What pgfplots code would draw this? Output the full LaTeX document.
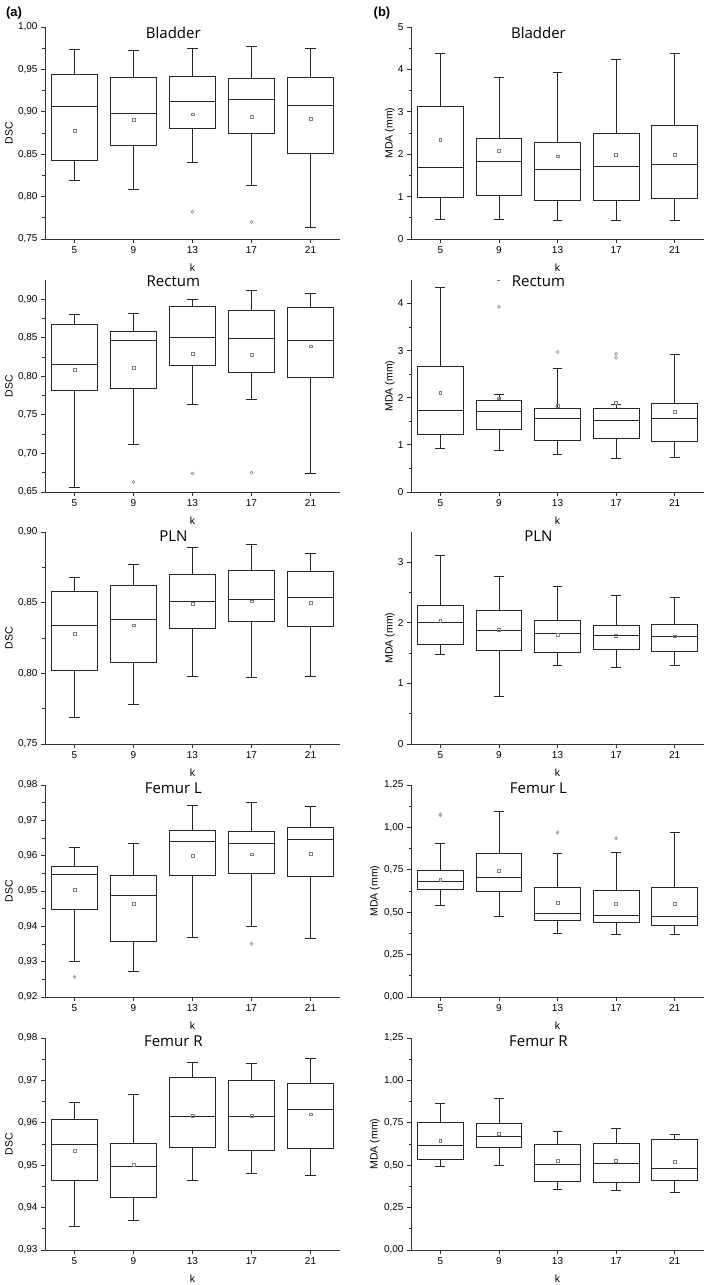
\documentclass[border=0pt]{standalone}
\usepackage{fontspec}
\setmainfont{Liberation Sans}
\newfontfamily\titlefont{Open Sans}
\usepackage{pgfplots}
\pgfplotsset{compat=1.18}

% box: position, lower whisker, Q1, median, Q3, upper whisker
\newcommand{\bx}[6]{%
 \pgfmathsetmacro\bxl{#1-0.39}\pgfmathsetmacro\bxr{#1+0.39}%
 \pgfmathsetmacro\bxcl{#1-0.085}\pgfmathsetmacro\bxcr{#1+0.085}%
 \addplot[boxline] coordinates {(\bxl,#3) (\bxr,#3) (\bxr,#5) (\bxl,#5) (\bxl,#3) (\bxr,#3) (nan,nan)
   (\bxl,#4) (\bxr,#4) (nan,nan) (#1,#5) (#1,#6) (nan,nan) (\bxcl,#6) (\bxcr,#6) (nan,nan)
   (#1,#3) (#1,#2) (nan,nan) (\bxcl,#2) (\bxcr,#2)};%
}
\newcommand{\means}[5]{\addplot[only marks, mark=square, mark size=1.4pt, gray, mark options={line width=0.5pt}] coordinates {(0,#1) (1,#2) (2,#3) (3,#4) (4,#5)};}

\pgfplotsset{
  boxline/.style={black!85, line width=0.8pt, unbounded coords=jump, mark=none},
  panel/.style={
    scale only axis, height=212pt, xmin=-0.5, xmax=4.5, clip=false,
    xtick={0,1,2,3,4}, xticklabels={5,9,13,17,21},
    axis lines=left, axis line style={-, line width=0.9pt, black!80},
    tick align=outside, major tick length=4pt, minor tick length=2.5pt,
    every tick/.style={black!80, line width=0.8pt},
    minor y tick num=1,
    xlabel={k},
    xlabel style={at={(axis description cs:0.5,-0.137)}, anchor=center},
    tick label style={font=\fontsize{10}{11}\selectfont},
    label style={font=\fontsize{10.5}{12}\selectfont},
    title style={font=\titlefont\fontsize{15}{16}\selectfont, at={(0.435,1)}, anchor=center, yshift=-12pt},
  },
  dsc/.style={panel, width=295pt, ylabel={DSC},
    ylabel style={at={(axis description cs:-0.122,0.5)}, anchor=center},
    yticklabel style={/pgf/number format/.cd, fixed, fixed zerofill, precision=2, use comma, assume math mode=true}},
  mdaint/.style={panel, width=293pt, ylabel={MDA (mm)},
    ylabel style={at={(axis description cs:-0.072,0.5)}, anchor=center},
    yticklabel style={/pgf/number format/.cd, fixed, precision=0, assume math mode=true}},
  mdadec/.style={panel, width=293pt, ylabel={MDA (mm)},
    ylabel style={at={(axis description cs:-0.123,0.5)}, anchor=center},
    yticklabel style={/pgf/number format/.cd, fixed, fixed zerofill, precision=2, use comma, assume math mode=true}},
  outl/.style={only marks, mark=o, mark size=1.5pt, gray, mark options={line width=0.5pt}},
}

\begin{document}
\begin{tikzpicture}
\path[use as bounding box] (0pt,0pt) rectangle (709pt,1285pt);
\node[font=\bfseries\fontsize{13}{14}\selectfont] at (14pt,1272pt) {(a)};
\node[font=\bfseries\fontsize{13}{14}\selectfont] at (382pt,1272pt) {(b)};

% ---------- Row 1: Bladder ----------
\begin{axis}[dsc, at={(45pt,1046pt)}, anchor=south west, title={Bladder},
  ymin=0.75, ymax=1.00, ytick={0.75,0.80,0.85,0.90,0.95,1.00}]
\bx{0}{0.819}{0.843}{0.906}{0.944}{0.974}
\bx{1}{0.808}{0.860}{0.898}{0.940}{0.972}
\bx{2}{0.840}{0.880}{0.912}{0.942}{0.975}
\bx{3}{0.813}{0.874}{0.915}{0.939}{0.977}
\bx{4}{0.764}{0.851}{0.907}{0.940}{0.975}
\means{0.878}{0.891}{0.897}{0.894}{0.892}
\addplot[outl] coordinates {(2,0.782) (3,0.770)};
\end{axis}

\begin{axis}[mdaint, at={(411pt,1046pt)}, anchor=south west, title={Bladder},
  ymin=0, ymax=5, ytick={0,1,2,3,4,5}]
\bx{0}{0.46}{0.97}{1.68}{3.13}{4.37}
\bx{1}{0.47}{1.02}{1.83}{2.37}{3.82}
\bx{2}{0.43}{0.92}{1.63}{2.28}{3.94}
\bx{3}{0.43}{0.92}{1.71}{2.50}{4.24}
\bx{4}{0.45}{0.95}{1.77}{2.69}{4.37}
\means{2.34}{2.09}{1.95}{1.99}{1.99}
\end{axis}

% ---------- Row 2: Rectum ----------
\begin{axis}[dsc, at={(45pt,793pt)}, anchor=south west, title={Rectum}, title style={yshift=5pt},
  ymin=0.65, ymax=0.925, ytick={0.65,0.70,0.75,0.80,0.85,0.90}]
\bx{0}{0.656}{0.782}{0.815}{0.868}{0.881}
\bx{1}{0.712}{0.784}{0.846}{0.858}{0.882}
\bx{2}{0.763}{0.814}{0.850}{0.891}{0.900}
\bx{3}{0.770}{0.805}{0.849}{0.885}{0.912}
\bx{4}{0.674}{0.799}{0.847}{0.889}{0.908}
\means{0.809}{0.811}{0.829}{0.828}{0.839}
\addplot[outl] coordinates {(1,0.663) (2,0.674) (3,0.675)};
\end{axis}

\begin{axis}[mdaint, at={(411pt,793pt)}, anchor=south west, title={Rectum}, title style={yshift=5pt},
  ymin=0, ymax=4.5, ytick={0,1,2,3,4}]
\bx{0}{0.93}{1.22}{1.73}{2.66}{4.35}
\bx{1}{0.89}{1.33}{1.71}{1.94}{2.07}
\bx{2}{0.79}{1.09}{1.56}{1.77}{2.63}
\bx{3}{0.72}{1.13}{1.52}{1.78}{1.86}
\bx{4}{0.73}{1.08}{1.57}{1.89}{2.92}
\means{2.11}{1.99}{1.83}{1.89}{1.71}
\addplot[outl] coordinates {(1,3.93) (2,2.97) (3,2.93) (3,2.85)};
\addplot[only marks, mark=-, mark size=1.5pt, gray] coordinates {(1,4.50)};
\end{axis}

% ---------- Row 3: PLN ----------
\begin{axis}[dsc, at={(45pt,541pt)}, anchor=south west, title={PLN}, title style={yshift=2pt},
  ymin=0.75, ymax=0.90, ytick={0.75,0.80,0.85,0.90}]
\bx{0}{0.769}{0.802}{0.834}{0.858}{0.868}
\bx{1}{0.778}{0.808}{0.838}{0.862}{0.877}
\bx{2}{0.798}{0.832}{0.851}{0.870}{0.889}
\bx{3}{0.797}{0.837}{0.852}{0.873}{0.891}
\bx{4}{0.798}{0.833}{0.854}{0.872}{0.885}
\means{0.828}{0.834}{0.849}{0.851}{0.850}
\end{axis}

\begin{axis}[mdaint, at={(411pt,541pt)}, anchor=south west, title={PLN}, title style={yshift=2pt},
  ymin=0, ymax=3.5, ytick={0,1,2,3}]
\bx{0}{1.48}{1.65}{2.01}{2.29}{3.11}
\bx{1}{0.78}{1.55}{1.87}{2.20}{2.76}
\bx{2}{1.30}{1.51}{1.82}{2.04}{2.60}
\bx{3}{1.27}{1.56}{1.79}{1.95}{2.46}
\bx{4}{1.30}{1.53}{1.77}{1.97}{2.42}
\means{2.03}{1.88}{1.80}{1.79}{1.78}
\end{axis}

% ---------- Row 4: Femur L ----------
\begin{axis}[dsc, at={(45pt,288pt)}, anchor=south west, title={Femur L}, title style={yshift=3pt},
  ymin=0.92, ymax=0.98, ytick={0.92,0.93,0.94,0.95,0.96,0.97,0.98}]
\bx{0}{0.9300}{0.9448}{0.9548}{0.9570}{0.9624}
\bx{1}{0.9272}{0.9356}{0.9487}{0.9545}{0.9635}
\bx{2}{0.9370}{0.9544}{0.9639}{0.9671}{0.9743}
\bx{3}{0.9400}{0.9550}{0.9634}{0.9669}{0.9750}
\bx{4}{0.9365}{0.9542}{0.9645}{0.9680}{0.9739}
\means{0.9503}{0.9464}{0.9600}{0.9604}{0.9606}
\addplot[outl, mark=diamond*, mark size=1.8pt, gray!70] coordinates {(0,0.9257) (3,0.9351)};
\end{axis}

\begin{axis}[mdadec, at={(411pt,288pt)}, anchor=south west, title={Femur L}, title style={yshift=3pt},
  ymin=0, ymax=1.25, ytick={0,0.25,0.50,0.75,1.00,1.25}]
\bx{0}{0.543}{0.633}{0.679}{0.746}{0.907}
\bx{1}{0.475}{0.622}{0.708}{0.846}{1.093}
\bx{2}{0.377}{0.449}{0.491}{0.646}{0.846}
\bx{3}{0.367}{0.438}{0.483}{0.626}{0.850}
\bx{4}{0.367}{0.422}{0.475}{0.646}{0.969}
\means{0.691}{0.744}{0.555}{0.551}{0.551}
\addplot[outl, mark=diamond*, mark size=1.8pt, gray!70] coordinates {(0,1.077) (0,1.072) (2,0.969) (3,0.936)};
\end{axis}

% ---------- Row 5: Femur R ----------
\begin{axis}[dsc, at={(45pt,35pt)}, anchor=south west, title={Femur R}, title style={yshift=3pt},
  ymin=0.93, ymax=0.98, ytick={0.93,0.94,0.95,0.96,0.97,0.98}]
\bx{0}{0.9355}{0.9465}{0.9550}{0.9608}{0.9649}
\bx{1}{0.9369}{0.9424}{0.9498}{0.9551}{0.9668}
\bx{2}{0.9463}{0.9542}{0.9615}{0.9707}{0.9743}
\bx{3}{0.9480}{0.9535}{0.9615}{0.9700}{0.9740}
\bx{4}{0.9476}{0.9540}{0.9631}{0.9694}{0.9752}
\means{0.9534}{0.9502}{0.9616}{0.9617}{0.9620}
\end{axis}

\begin{axis}[mdadec, at={(411pt,35pt)}, anchor=south west, title={Femur R}, title style={yshift=3pt},
  ymin=0, ymax=1.25, ytick={0,0.25,0.50,0.75,1.00,1.25}]
\bx{0}{0.490}{0.535}{0.618}{0.750}{0.866}
\bx{1}{0.496}{0.606}{0.667}{0.748}{0.896}
\bx{2}{0.356}{0.402}{0.502}{0.620}{0.700}
\bx{3}{0.350}{0.398}{0.510}{0.628}{0.715}
\bx{4}{0.339}{0.413}{0.484}{0.650}{0.683}
\means{0.646}{0.685}{0.524}{0.528}{0.522}
\end{axis}
\end{tikzpicture}
\end{document}
